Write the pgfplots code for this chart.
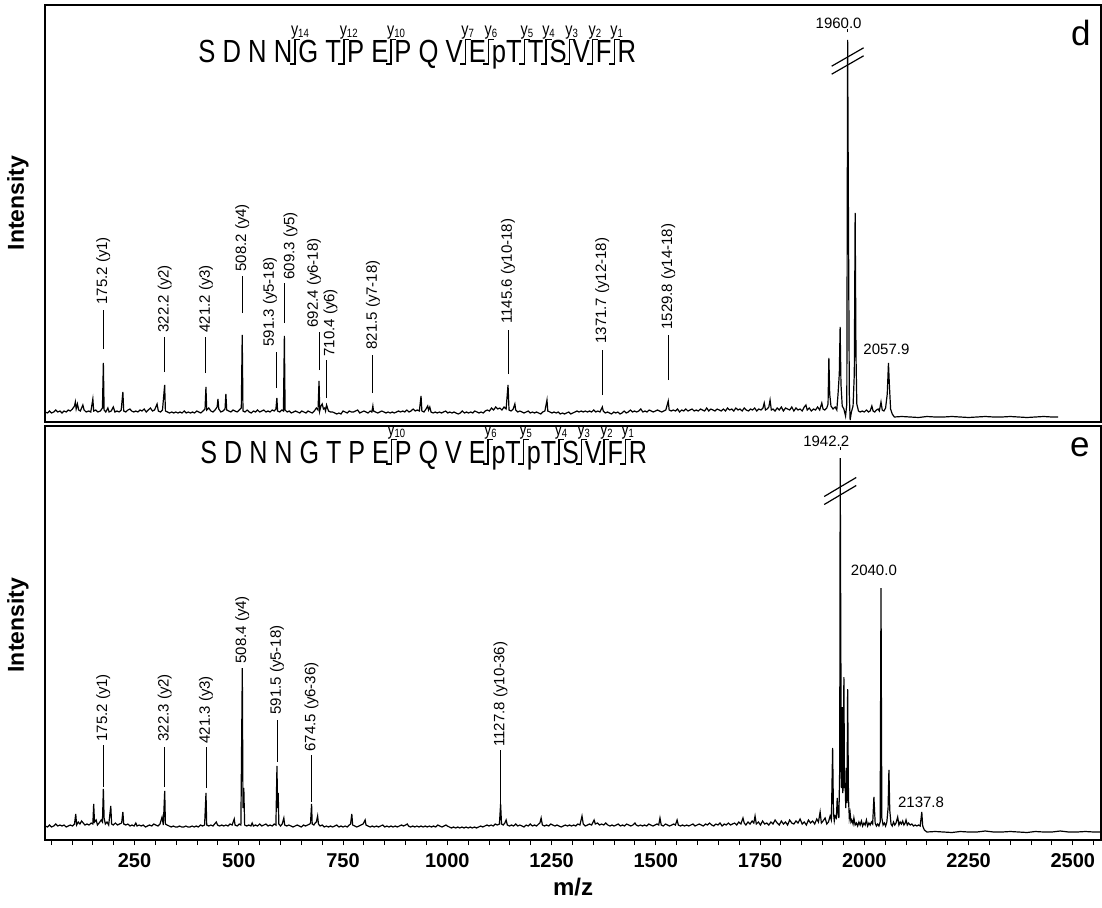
\documentclass[border=0pt]{standalone}
\usepackage{pgfplots}
\pgfplotsset{compat=1.18}
\usepackage{pgfplotstable}
\usepackage{graphicx}
\usepackage{fontspec}
\setmainfont{Liberation Sans}
\newcommand{\yl}[1]{\makebox[0pt][l]{\kern-2pt\raisebox{13.9pt}{\fontsize{9}{10}\selectfont y\textsubscript{#1}}}}
\newcommand{\cut}[1]{\kern1.2pt\yl{#1}\llap{\rule[-0.9pt]{2.8pt}{0.9pt}}\rule[-0.9pt]{1pt}{13.1pt}\rlap{\rule[11.3pt]{2.8pt}{0.9pt}}\kern1.6pt}
\newcommand{\ann}{\fontsize{7.5}{8}\selectfont}
\tikzset{
  leader/.style={line width=0.45pt},
  lab/.style={rotate=90, anchor=west, inner sep=0pt, font=\ann},
}

\pgfplotstableread{
x y
36 2
41 1
46 3
51 1
56 2
61 4
66 2
71 3
76 1
81 3
86 2
91 4
96 3
101 5
106 8
108 12
110 5
113 10
116 4
120 3
126 9
129 4
134 2
140 3
145 2
150 15
152 3
157 4
162 2
168 3
173 6
175.2 51
177 4
181 2
186 6
189 2
194 3
199 7
203 2
208 3
213 2
218 4
222 22
224 3
229 2
234 4
239 5
243 3
248 2
253 3
258 2
263 4
268 3
273 5
278 2
283 4
288 6
293 3
298 4
304 10
307 3
312 2
317 4
322.2 29
324 3
329 2
334 1
339 2
344 1
349 2
354 1
359 2
364 1
369 3
374 1
379 2
384 1
389 2
394 1
399 3
404 2
409 1
414 3
419 5
421.2 27
423 4
428 6
433 3
438 2
443 4
448 7
450 15
452 5
457 2
462 3
467 5
469 20
471 4
476 3
481 2
486 4
491 3
496 2
501 4
506 6
508.2 79
510 3
515 2
520 4
525 2
530 1
535 3
540 2
545 4
550 2
555 3
560 4
565 2
570 3
575 2
580 4
585 3
589 5
591.3 16
593 3
598 2
603 4
607 3
609.3 78
611 4
616 2
621 3
626 1
631 2
636 3
641 2
646 1
651 3
656 2
661 1
666 3
671 2
676 1
681 3
686 6
690 4
692.4 33
694 3
697 8
700 10
703 5
706 6
708 3
710.4 9
712 7
715 3
720 2
725 2
730 1
735 0
740 1
745 0
750 3
755 2
760 1
765 3
770 2
775 2
780 3
785 4
790 1
795 2
800 3
805 2
810 1
815 3
819 2
821.5 8
823 3
828 2
833 1
838 2
843 3
848 2
853 1
858 2
863 1
868 2
873 1
878 2
883 3
888 2
893 3
898 2
903 4
908 2
913 3
918 5
923 3
928 4
933 3
937 18
939 3
944 2
949 5
953 8
955 4
958 7
961 2
966 1
971 2
976 1
981 2
986 1
991 2
996 3
1001 1
1006 2
1011 1
1016 2
1021 1
1026 0
1031 1
1036 3
1041 1
1046 2
1051 1
1056 2
1061 1
1066 3
1071 2
1076 1
1081 2
1086 1
1091 3
1096 4
1101 3
1106 6
1111 4
1116 7
1121 5
1126 6
1131 4
1136 7
1141 5
1145.6 29
1148 4
1153 3
1158 5
1162 10
1164 4
1169 2
1174 3
1179 2
1184 1
1189 2
1194 3
1199 1
1204 2
1209 1
1214 2
1219 1
1224 0
1229 2
1234 3
1239 14
1241 3
1246 2
1251 1
1256 2
1261 1
1266 2
1271 0
1276 1
1281 0
1286 1
1291 2
1296 0
1301 1
1306 2
1311 3
1316 2
1321 3
1326 2
1331 3
1336 2
1341 3
1346 2
1351 4
1356 2
1361 3
1366 2
1371.7 7
1374 3
1379 1
1384 2
1389 1
1394 0
1399 2
1404 1
1409 2
1414 0
1419 1
1424 3
1429 1
1434 2
1439 4
1444 2
1449 3
1454 2
1459 3
1464 5
1469 2
1474 3
1479 2
1484 4
1489 3
1494 2
1499 3
1504 4
1509 3
1514 2
1519 3
1524 4
1529.8 13
1532 4
1537 3
1542 4
1547 3
1552 5
1557 2
1562 4
1567 3
1572 5
1577 3
1582 4
1587 5
1592 3
1597 4
1602 3
1607 5
1612 4
1617 3
1622 6
1627 3
1632 5
1637 4
1642 3
1647 5
1652 4
1657 3
1662 5
1667 3
1672 6
1677 4
1682 5
1687 3
1692 6
1697 4
1702 5
1707 3
1712 6
1717 4
1722 3
1727 5
1732 4
1737 6
1742 3
1747 5
1752 4
1757 6
1760 11
1763 4
1767 5
1771 7
1774 14
1777 4
1781 5
1786 3
1791 6
1796 4
1801 7
1806 3
1811 6
1816 5
1821 4
1826 7
1831 3
1836 6
1841 4
1846 5
1851 3
1856 7
1860 9
1863 4
1868 6
1873 3
1878 5
1883 4
1888 7
1893 4
1898 11
1901 5
1905 4
1910 6
1913 10
1915 56
1917 20
1920 8
1925 5
1930 7
1934 4
1937 20
1940 40
1942 87
1944 30
1947 8
1951 5
1955 -2
1958 10
1960 374
1962 190
1964 20
1966 -6
1969 2
1973 8
1976 40
1978 201
1980 60
1982 10
1986 3
1990 2
1995 3
2000 2
2005 4
2010 2
2014 3
2018 8
2021 3
2025 2
2029 4
2033 5
2036 3
2040 12
2043 4
2047 3
2051 6
2055 20
2057.9 51
2060 30
2063 5
2067 0
2072 -3
2090 -2.5
2110 -3
2130 -3.5
2150 -2.5
2170 -3
2190 -3
2210 -2.5
2230 -3
2250 -3.5
2270 -3
2290 -2.5
2310 -3
2330 -3
2350 -2.5
2370 -3
2390 -3.5
2410 -3
2430 -2.5
2450 -3
2465 -3
}\dataD

\pgfplotstableread{
x y
36 2
41 1
46 3
51 1
56 2
61 4
66 2
71 3
76 2
81 3
86 1
91 2
96 3
101 2
106 4
109 14
111 3
115 6
119 4
123 7
127 5
131 3
136 4
141 3
146 5
150 4
152 24
154 6
158 8
161 3
165 5
170 8
173 6
175.2 39
177 10
180 4
184 6
188 3
193 22
195 4
199 3
204 5
209 3
214 4
219 5
222 16
224 4
229 3
234 4
239 2
244 3
249 2
253 5
256 2
261 3
266 2
271 3
276 1
281 2
286 3
291 2
296 4
301 3
306 2
311 4
316 11
319 3
322.3 37
324 4
328 3
333 2
338 1
343 2
348 1
353 1
358 2
363 1
368 1
373 2
378 1
383 1
388 2
393 1
398 2
403 1
408 3
413 2
418 3
421.3 35
423 3
428 2
433 3
438 2
442 4
446 6
449 3
454 2
459 3
464 2
469 3
474 2
479 4
484 3
489 9
491 3
496 2
501 4
505 3
508.4 160
510 20
512 40
514 3
519 2
524 3
529 2
532 5
535 2
540 3
545 2
550 4
555 2
560 3
565 4
570 2
575 3
580 2
585 4
589 3
591.5 62
593 20
594.5 35
596 4
600 2
604 4
608 10
610 3
615 2
620 3
625 2
630 1
635 2
640 3
645 2
650 1
655 3
660 2
665 3
670 4
672 5
674.5 24
676 4
680 3
683 5
686 6
689 12
691 4
695 2
700 3
705 1
710 2
715 1
720 2
725 1
730 2
735 3
740 1
745 2
750 1
755 2
760 1
765 3
768 4
771 14
773 3
778 2
783 1
788 2
793 3
798 4
803 8
805 3
810 2
815 1
820 2
825 1
830 2
835 1
840 2
845 3
850 1
855 2
860 1
865 2
870 1
875 2
880 1
885 2
890 3
895 2
900 3
904 4
907 2
912 1
917 2
922 1
927 2
932 1
937 2
942 1
947 2
952 1
957 2
962 1
967 2
972 1
977 3
982 2
987 1
992 2
997 3
1000 2
1005 1
1010 0
1015 1
1020 0
1025 1
1030 0
1035 1
1040 0
1045 1
1050 0
1055 1
1060 0
1065 1
1070 0
1075 1
1080 2
1085 1
1090 2
1095 3
1100 2
1105 3
1110 2
1115 4
1120 3
1125 4
1127.8 24
1130 4
1134 3
1138 5
1141 8
1144 3
1149 2
1154 3
1159 2
1164 4
1169 2
1174 3
1179 2
1184 1
1189 3
1194 2
1199 4
1204 2
1209 3
1214 2
1219 4
1222 5
1225 10
1228 3
1233 2
1238 3
1243 2
1248 4
1253 3
1258 2
1263 3
1268 2
1273 1
1278 2
1283 3
1288 2
1293 3
1298 2
1303 3
1308 2
1313 4
1318 3
1323 12
1326 4
1331 2
1336 3
1341 4
1346 3
1352 8
1355 4
1360 5
1365 3
1370 4
1375 3
1380 5
1385 3
1390 2
1395 3
1400 2
1405 3
1410 4
1415 2
1420 3
1425 2
1430 4
1435 3
1440 2
1445 3
1450 5
1453 3
1458 2
1463 3
1468 2
1473 3
1478 2
1483 4
1488 3
1493 2
1498 3
1503 4
1507 3
1510 10
1513 3
1518 2
1523 4
1528 3
1533 2
1538 3
1543 4
1547 3
1551 8
1554 3
1559 2
1564 3
1569 2
1574 3
1579 2
1584 3
1589 4
1594 2
1599 3
1604 4
1609 3
1614 2
1619 4
1624 3
1629 5
1634 3
1639 2
1644 4
1649 3
1654 5
1659 2
1664 4
1669 3
1674 5
1679 3
1684 4
1689 5
1694 3
1699 6
1704 4
1709 10
1712 5
1716 3
1721 6
1726 4
1731 7
1735 5
1738 12
1741 4
1746 6
1751 3
1756 7
1761 4
1766 5
1771 3
1776 6
1781 4
1786 8
1791 5
1796 3
1801 7
1806 4
1811 6
1816 3
1821 8
1826 5
1831 4
1836 7
1841 5
1846 9
1851 4
1856 6
1861 3
1866 8
1871 5
1876 7
1881 4
1886 9
1890 6
1894 16
1897 5
1901 7
1906 10
1910 4
1914 6
1918 12
1921 8
1924 80
1926 15
1928 7
1930 12
1933 10
1935 30
1937 15
1939 10
1941 60
1942.2 370
1943.5 200
1945 40
1947 121
1948.5 35
1950 60
1951 151
1952.5 40
1954 45
1955.5 20
1957 60
1958.5 25
1960 139
1962 30
1964 10
1966 15
1968 6
1970 8
1973 4
1975 10
1978 3
1981 5
1984 2
1987 6
1990 3
1993 7
1996 2
1999 5
2002 3
2005 8
2008 2
2011 5
2014 3
2017 6
2020 4
2023 31
2026 5
2029 2
2032 4
2035 2
2038 6
2040 240
2042 10
2045 3
2048 5
2051 2
2054 6
2057 20
2059 58
2061 18
2064 4
2067 2
2070 6
2073 3
2076 5
2080 11
2083 3
2086 6
2089 4
2092 7
2095 3
2098 5
2100 8
2103 3
2106 5
2110 3
2114 4
2118 2
2122 3
2126 2
2130 3
2134 2
2137.8 16
2140 2
2144 -2
2150 -4
2170 -3.5
2190 -4
2210 -4.5
2230 -3.5
2250 -4
2270 -4
2290 -3
2310 -4
2330 -4
2350 -3.5
2370 -4
2390 -4.5
2410 -3.5
2430 -4
2450 -4
2470 -3
2490 -4
2510 -4
2530 -3.5
2550 -4
2565 -4
}\dataE

\begin{document}
\begin{tikzpicture}
\useasboundingbox (0,0) rectangle (551pt,453.5pt);
\pgfplotsset{
  specax/.style={
    scale only axis, width=528pt, xmin=35.25, xmax=2567.6,
    clip=false, ytick=\empty,
    axis line style={line width=0.6pt},
    anchor=south west,
  },
}
% ---------------- panel d ----------------
\begin{axis}[specax, at={(22.5pt,242.5pt)}, height=208.5pt, ymin=-8, ymax=409, xtick=\empty]
\addplot[black, line width=0.6pt, mark=none] table {\dataD};
\foreach \xx/\ya/\yb/\yt/\sh/\tx in {
  175.2/65/104/109/0/{175.2 (y1)},
  322.2/42/77/81/0/{322.2 (y2)},
  421.2/41/77/81/0/{421.2 (y3)},
  508.2/101/138/142/0/{508.2 (y4)},
  591.3/26/62/67/-3.5/{591.3 (y5-18)},
  609.3/91/131/134/3/{609.3 (y5)},
  692.4/44/82/86/-2.5/{692.4 (y6-18)},
  710.4/16/54/57/2/{710.4 (y6)},
  821.5/21/59/64/0/{821.5 (y7-18)},
  1145.6/40/84/90/0/{1145.6 (y10-18)},
  1371.7/19/64/70/0/{1371.7 (y12-18)},
  1529.8/34/79/84/0/{1529.8 (y14-18)}}{
  \edef\temp{\noexpand\draw[leader] (axis cs:\xx,\ya) -- (axis cs:\xx,\yb);
    \noexpand\node[lab] at ([xshift=\sh pt]axis cs:\xx,\yt) {\tx};}
  \temp
}
\draw[line width=0.6pt] ([shift={(-8pt,-4.6pt)}]axis cs:1960,357) -- ++(16pt,9.2pt);
\draw[line width=0.6pt] ([shift={(-8pt,-4.6pt)}]axis cs:1960,349) -- ++(16pt,9.2pt);
\node[anchor=base, inner sep=0pt, xshift=-4.5pt, font=\ann] at (axis cs:1960,385.5) {1960.0};
\draw[leader] (axis cs:1960,381.5) -- (axis cs:1960,384.5);
\node[anchor=base, inner sep=0pt, font=\ann] at (axis cs:2053,59.5) {2057.9};
\node[anchor=center, inner sep=0pt, font=\fontsize{17.5}{20}\selectfont] at (rel axis cs:0.981,0.933) {d};
\node[anchor=base west, inner sep=0pt, font=\fontsize{16}{19}\selectfont] at (rel axis cs:0.1449,0.861)
  {\scalebox{0.8}[1]{S D N N\cut{14}G T\cut{12}P E\cut{10}P Q V\cut{7}E\cut{6}pT\cut{5}T\cut{4}S\cut{3}V\cut{2}F\cut{1}R}};
\node[rotate=90, inner sep=0pt, font=\bfseries\fontsize{11.5}{13}\selectfont] at ([xshift=-13.5pt]rel axis cs:0,0.525) {Intensity};
\end{axis}
% ---------------- panel e ----------------
\begin{axis}[specax, at={(22.5pt,33.5pt)}, height=207pt, ymin=-12, ymax=402,
  xtick={250,500,...,2500}, minor xtick={50,100,...,2550},
  xtick pos=bottom, xtick align=outside,
  major tick length=2.5pt, minor tick length=2.5pt,
  every tick/.style={black, line width=0.5pt},
  xticklabel style={font=\bfseries\fontsize{10}{12}\selectfont, yshift=-0.5pt},
  /pgf/number format/assume math mode=true,
  /pgf/number format/1000 sep={}]
\addplot[black, line width=0.6pt, mark=none] table {\dataE};
\foreach \xx/\ya/\yb/\yt/\sh/\tx in {
  175.2/41/83/86/0/{175.2 (y1)},
  322.3/41/81/86/0/{322.3 (y2)},
  421.3/40/81/84/0/{421.3 (y3)},
  591.5/66/108/113/0/{591.5 (y5-18)},
  674.5/26/73/76/0/{674.5 (y6-36)},
  1127.8/23/78/81/0/{1127.8 (y10-36)}}{
  \edef\temp{\noexpand\draw[leader] (axis cs:\xx,\ya) -- (axis cs:\xx,\yb);
    \noexpand\node[lab] at ([xshift=\sh pt]axis cs:\xx,\yt) {\tx};}
  \temp
}
\node[lab] at (axis cs:508.4,164) {508.4 (y4)};
\draw[line width=0.6pt] ([shift={(-8pt,-4.75pt)}]axis cs:1942.2,341) -- ++(16pt,9.5pt);
\draw[line width=0.6pt] ([shift={(-8pt,-4.75pt)}]axis cs:1942.2,333) -- ++(16pt,9.5pt);
\node[anchor=base, inner sep=0pt, xshift=-7pt, font=\ann] at (axis cs:1942.2,381.5) {1942.2};
\draw[leader] (axis cs:1942.2,378.5) -- (axis cs:1942.2,381.5);
\node[anchor=base, inner sep=0pt, font=\ann] at (axis cs:2023,253) {2040.0};
\node[anchor=base, inner sep=0pt, font=\ann] at (axis cs:2136,21) {2137.8};
\node[anchor=center, inner sep=0pt, font=\fontsize{17.5}{20}\selectfont] at (rel axis cs:0.980,0.949) {e};
\node[anchor=base west, inner sep=0pt, font=\fontsize{16}{19}\selectfont] at (rel axis cs:0.1468,0.9106)
  {\scalebox{0.785}[1]{S D N N G T P E\cut{10}P Q V E\cut{6}pT\cut{5}pT\cut{4}S\cut{3}V\cut{2}F\cut{1}R}};
\node[rotate=90, inner sep=0pt, font=\bfseries\fontsize{11.5}{13}\selectfont] at ([xshift=-13.5pt]rel axis cs:0,0.519) {Intensity};
\node[anchor=base, inner sep=0pt, font=\bfseries\fontsize{12}{14}\selectfont] at ([yshift=-27.5pt]rel axis cs:0.5,0) {m/z};
\end{axis}
\end{tikzpicture}
\end{document}
